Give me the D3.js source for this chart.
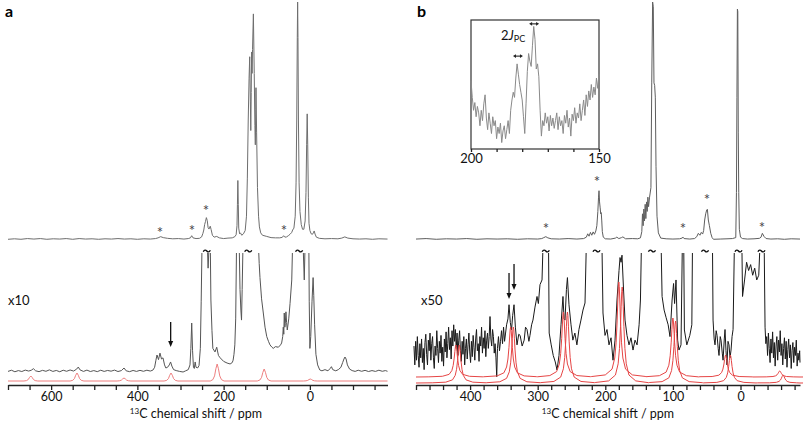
<!DOCTYPE html>
<html><head><meta charset="utf-8">
<script src="https://cdn.jsdelivr.net/npm/d3@7"></script>
<style>body{margin:0;background:#fff} svg{display:block} text{font-family:Lato,"Open Sans",sans-serif}</style>
</head><body><svg id="c" width="803" height="423"></svg>
<script>
// ---------------- DATA ----------------
// Panel a, upper spectrum: [ppm, relative intensity]
const aUpper = [[700,0.3],[685,0.5],[670,0.3],[655,0.6],[640,0.4],[625,0.6],[610,0.3],[595,0.5],[580,0.4],[565,0.6],[550,0.3],[535,0.6],[520,0.4],[505,0.5],[490,0.3],[475,0.5],[460,0.4],[445,0.6],[430,0.4],[415,0.5],[400,0.3],[385,0.5],[370,0.4],[358,0.6],[352,0.9],[346,1.4],[340,1.0],[330,0.7],[318,0.5],[305,0.6],[292,0.4],[282,0.6],[277,0.9],[274,1.8],[271,0.9],[264,0.6],[256,0.7],[251,1.3],[248,2.8],[246,4.2],[244,6.5],[242,7.8],[240,9.4],[238,8.2],[236,5.2],[234,4.6],[231,5.8],[229,4.4],[226,2.0],[222,1.2],[216,1.5],[210,0.9],[200,0.6],[190,0.8],[180,0.9],[174,1.4],[171,2.2],[169,6],[168,15],[167,25],[166,15],[165,5],[163,2.6],[161,3.0],[158,2.0],[154,2.6],[150,4],[147,10],[145,26],[143,50],[141,68],[139.5,77],[138,58],[137,46],[136,62],[135,79],[134,70],[133,80],[131,95],[129,70],[127.5,48],[126.5,40],[125.5,55],[125,64],[123.5,45],[121.5,22],[119,10],[117,5.5],[114,3],[110,2],[100,1.5],[90,1],[80,0.9],[70,0.9],[64,1.1],[61,1.8],[58,1.2],[54,1.3],[50,1.8],[46,2.4],[42,3.2],[40,4.2],[37,5],[34,10],[32,24],[30.5,50],[29.2,85],[28.4,100],[27.6,85],[26.5,50],[25,24],[23,12],[20,6.5],[17,4.5],[14,4.5],[11,8],[9,20],[7.5,40],[6.2,53],[5,40],[3.5,18],[2,7],[0,4],[-3,2.6],[-6,2.4],[-8,3],[-10,3.8],[-12,2.5],[-15,1.2],[-22,0.7],[-35,0.5],[-50,0.6],[-65,0.5],[-74,0.8],[-81,1.3],[-88,0.8],[-100,0.5],[-115,0.4],[-130,0.5],[-145,0.3],[-160,0.5],[-180,0.4]];

// Panel a, lower spectrum (x10), clipped above 100
const aLower = [[700,0.5],[692,1.5],[684,0.2],[676,1.2],[668,0.4],[660,1.6],[652,0.8],[646,1.5],[641,2.8],[636,1.0],[628,0.3],[620,1.4],[612,0.6],[604,1.8],[596,0.5],[588,1.3],[580,0.2],[572,1.5],[564,0.6],[556,1.7],[548,0.8],[541,2.4],[537,4.2],[533,1.8],[525,0.5],[517,1.6],[509,0.4],[501,1.2],[493,0.3],[485,1.5],[477,0.5],[469,1.3],[461,0.7],[453,1.6],[445,0.4],[437,1.2],[431,3.4],[426,1.0],[418,0.3],[410,1.3],[402,0.5],[394,1.4],[386,0.6],[378,1.5],[370,0.8],[364,1.6],[360,4],[357,10],[354.5,14.4],[351,10.5],[347.6,16],[344,11],[340.6,12],[337,6],[334,3.4],[330,4],[326,6],[323,8.5],[320,5],[316,2],[310,1.2],[302,0.5],[294,0],[288,1],[282,2],[278,6],[276,20],[274,41.5],[272,18],[270,4],[268,3],[266,8.5],[264,4],[260,3.5],[257,5.5],[254,20],[252,60],[250,110],[244,160],[240,150],[238,110],[236,88],[234,105],[231,110],[229.5,61],[227,35],[225,20],[220,17],[216,21],[212,14],[208,12],[200,9],[192,7.6],[185,6.8],[180,8],[178,10],[176,15],[174,23],[172,45],[170,110],[167,250],[164,110],[162,70],[160,52.5],[158.5,44],[157,70],[155,110],[150,300],[130,900],[121,200],[119.6,110],[117.5,92],[115.7,80],[112,62],[108,50],[104,38],[100,30],[96,26],[92.5,23],[88,21],[85,20],[80,21.5],[73,21],[68,23],[65.5,24.6],[63,30],[61.7,38],[60.5,32],[59.4,50],[58,38],[57,41],[55.5,51],[54,42],[52.4,35.6],[49,45],[46,58],[42,78],[40,110],[28,900],[17,120],[15,100],[13,78],[11,110],[6,500],[3,140],[1.5,60],[0,20],[-2,30],[-5,60],[-7.5,80],[-9,65],[-11,40],[-14,15],[-18,6],[-23,1.7],[-28,1],[-35,2],[-42,1],[-47,3],[-50,4.5],[-53,2],[-60,1],[-66,2],[-72,4],[-76,8],[-79,11],[-81.4,12.7],[-84,11],[-87,6],[-92,2.5],[-98,1.2],[-105,0.5],[-112,1.5],[-120,0.6],[-128,1.4],[-136,0.4],[-144,1.2],[-152,0.5],[-160,1.5],[-168,0.6],[-175,1.2],[-180,0.6]];

// Panel a, simulated sideband pattern (red): [ppm, height]
const redAPeaks = [[647,25],[540,40],[431,15],[322,40],[215,85],[106,60],[-1,10]];
const redAShapeOffsets = [-16,-10,-6,-3,0,3,6,10,16];
const redAShapeFrac = [0,0.08,0.3,0.72,1,0.72,0.3,0.08,0];

// Panel b, upper spectrum
const bUpper = [[480,0.4],[465,0.6],[450,0.3],[435,0.5],[420,0.4],[405,0.6],[390,0.3],[375,0.5],[360,0.4],[345,0.5],[330,0.3],[315,0.5],[300,0.4],[294,0.6],[291,1.0],[288,1.4],[285,0.9],[280,0.5],[268,0.4],[255,0.6],[242,0.4],[232,0.6],[228,1.2],[226,2.6],[224,1.6],[222,3.2],[220,2.0],[218,3.4],[216,2.4],[214,3.8],[212.5,6],[211,12],[210,18],[209.3,20.7],[208.5,16],[207.6,13.5],[206.8,11],[206,11.5],[205.2,8],[204.4,3.5],[203,1.2],[200,0.5],[192,0.4],[185,0.8],[183,1.2],[180,0.6],[176,1.0],[174,1.3],[170,0.5],[160,0.6],[152,0.5],[148,0.9],[146,3.5],[145,11],[144,6],[143,13],[142,8],[141,15],[140,9],[139,16],[138,12],[137,18],[136,14],[134.5,18],[132.5,22],[131.3,66],[130,100],[129,98],[128,66],[127,65],[126,60],[125,31],[123.5,10],[121.5,3],[118,0.8],[110,0.5],[100,0.4],[90,0.5],[86.5,0.8],[85,1.2],[83.5,0.6],[75,0.4],[68,0.6],[64.7,1.4],[62.4,2.8],[60,2],[58,3.2],[56,2.5],[54.5,4],[53,8.4],[51.5,11],[50,12.6],[49,12.9],[47.6,8.4],[46,6],[44,2.8],[42,1],[40,0.3],[30,0.4],[20,0.5],[12,0.6],[7,1],[6,20],[5.3,60],[4.6,97],[4,96],[3.3,45],[2.6,20],[1.7,4.5],[0,1.2],[-3,0.6],[-10,0.4],[-20,0.5],[-28,0.7],[-30.4,1.2],[-32.3,2.8],[-34.8,1.5],[-37.8,0.6],[-45,0.4],[-55,0.5],[-65,0.3],[-75,0.5],[-88,0.4]];

// Panel b, lower spectrum (x50), clipped above 100
const bLower = [[483,22],[481.75,6],[480.5,26],[479.25,10],[478,30],[476.75,14],[475.5,4],[474.25,24],[473,12],[471.75,28],[470.5,8],[469.25,20],[468,2],[466.75,25],[465.5,32],[464.25,15],[463,6],[461.75,27],[460.5,18],[459.25,33],[458,10],[456.75,24],[455.5,30],[454.25,12],[453,3],[451.75,22],[450.5,14],[449.25,35],[448,20],[446.75,8],[445.5,26],[444.25,16],[443,31],[441.75,9],[440.5,21],[439.25,5],[438,28],[436.75,17],[435.5,34],[434.25,12],[433,24],[431.75,38],[430.5,19],[429.25,29],[428,11],[426.75,35],[425.5,22],[424.25,40],[423,26],[421.75,36],[420.5,20],[419.25,33],[418,14],[416.75,27],[415.5,35],[414.25,18],[413,9],[411.75,26],[410.5,15],[409.25,30],[408,6],[406.75,20],[405.5,28],[404.25,11],[403,23],[401.75,33],[400.5,17],[399.25,8],[398,26],[396.75,13],[395.5,31],[394.25,21],[393,10],[391.75,28],[390.5,36],[389.25,18],[388,24],[386.75,9],[385.5,30],[384.25,22],[383,38],[381.75,16],[380.5,29],[379.25,20],[378,35],[376.75,13],[375.5,27],[374.25,33],[373,20],[371.75,30],[370.5,47],[369.25,28],[368,22],[366.75,36],[365.5,30],[364.25,16],[363,24],[361.75,12],[360.6,-4],[359.5,20],[358,30],[356.5,18],[355,26],[353.5,35],[352,24],[350.5,38],[349,26],[347.5,33],[346,40],[344,45],[342.4,57],[340.5,42],[338.7,35.6],[337,48],[335,57],[333,38],[330.6,23],[328,32],[326,31],[323,22],[320,27],[318,38],[315.8,36],[313,26],[311.4,31],[309,40],[307,44],[304,55],[301,64],[299,58],[296.6,74],[293.6,78],[292,110],[288,300],[284,110],[283,33],[280,23],[277,14],[274,8.5],[271.4,1.7],[268.5,14],[265.5,40],[262.6,64],[261,45],[259.6,44],[257.5,70],[256,80],[253.7,57],[250.7,40],[248,27],[245,33],[242,23],[239,36],[236,44],[233,52.5],[230,58.5],[228,110],[210,1000],[205,110],[203.4,50],[200.4,31],[197.5,36],[194.5,23],[191.5,29],[188.6,10],[185.6,27],[182.7,61],[179.7,86],[178.2,97],[176.7,93],[175.3,99],[173,69.5],[170.8,44],[167.9,31],[164.9,23],[162,29],[159,18.6],[156,27],[153,23],[150,40],[148,61],[146.5,110],[130,5000],[117.5,110],[116,64],[113,52.5],[110,46],[107,40],[104.3,30],[101.2,61],[99,75],[97.5,58],[95.4,78],[93,27],[91,18.6],[88,23],[86,110],[85,150],[84,110],[83,35.6],[79.4,23],[75,31],[72,40],[71,110],[55,600],[41.5,110],[40.6,44],[39,28],[37.7,23],[36,35],[34.7,31],[33,20],[31.8,14],[30,30],[28.8,27],[27,16],[25.8,10],[24,28],[22.9,36],[21.5,18],[20,6],[18.5,26],[17,23],[15.5,12],[14,18.6],[12.5,30],[11,36],[9,110],[4,5000],[-2,110],[-3,64],[-6,78],[-9,93],[-12,86],[-15,91],[-18,82],[-21,88],[-24,78],[-27,82],[-29,110],[-32,150],[-35,110],[-36.3,38],[-37.5,24],[-38.75,30],[-40,14],[-41.25,33],[-42.5,20],[-43.75,8],[-45,28],[-46.25,16],[-47.5,34],[-48.75,12],[-50,25],[-51.25,5],[-52.5,22],[-53.75,30],[-55,10],[-56.25,27],[-57.5,17],[-58.75,35],[-60,14],[-61.25,24],[-62.5,6],[-63.75,20],[-65,29],[-66.25,11],[-67.5,26],[-68.75,4],[-70,19],[-71.25,28],[-72.5,12],[-73.75,23],[-75,3],[-76.25,18],[-77.5,25],[-78.75,8],[-80,21],[-81.25,14],[-82.5,27],[-83.75,5],[-85,16],[-86.25,10],[-87.5,18],[-88,8]];

// Panel b, two simulated patterns (red): [ppm, height]
const redB1Peaks = [[421,32],[340,50],[262,65],[180,95],[100,59],[22,22],[-58,6]];
const redB2Peaks = [[416,38],[336,56],[256,71],[175,96],[96,62],[15,28],[-63,8]];
const redBShapeOffsets = [-40,-20,-10,-6,-4,-2.5,-1.5,-0.7,0,0.7,1.5,2.5,4,6,10,20,40];
const redBShapeFrac = [0.005,0.022,0.083,0.2,0.36,0.59,0.8,0.95,1,0.95,0.8,0.59,0.36,0.2,0.083,0.022,0.005];

// Inset (panel b): intensities from 200 ppm to 150 ppm in 0.5 ppm steps
const insetStartPpm = 200, insetStepPpm = -0.5;
const insetValues = [53,40,30,36,25,33,28,18,30,22,35,42,24,15,28,20,12,25,18,22,8,17,12,20,5,14,18,8,15,22,12,30,38,44,40,55,66,58,50,44,38,25,12,35,60,74,68,64,80,95,85,62,66,56,30,10,22,18,28,20,25,14,26,18,24,16,22,28,15,25,18,22,12,26,20,30,17,24,10,27,22,32,20,28,24,35,22,30,38,26,42,33,45,38,50,40,48,42,55,47,58];

// Axis ticks
const aTickValues = [700,650,600,550,500,450,400,350,300,250,200,150,100,50,0,-50,-100,-150];
const aTickLabels = [600,400,200,0];
const bTickValues = [480,460,440,420,400,380,360,340,320,300,280,260,240,220,200,180,160,140,120,100,80,60,40,20,0,-20,-40,-60,-80];
const bTickLabels = [400,300,200,100,0];
const insetTickValues = [200,190,180,170,160,150];
const insetTickLabels = [200,150];

// Annotations
const aAsterisks = [[347.6,4.2],[273.4,5.0],[240.9,13.4],[60,5.0]];   // [ppm, upper-intensity]
const bAsterisks = [[287.7,5.9],[212.3,25.6],[85,5.9],[49.5,18.1],[-31.8,6.3]];
const aTildes = [239,143,25];
const bTildes = [288,213,131,52.5,3,-31];
const aArrows = [[322.8,42.4,21.2]];                 // [ppm, from, to] (lower-intensity)
const bArrows = [[342.4,83.9,61.9],[335,91.5,69.5]];
const insetArrows = [[183.6,179.7,72],[177.3,173.4,97]]; // [ppm1, ppm2, inset-intensity]

// ---------------- DRAW ----------------
const svg = d3.select("#c");
const FONT = 'Lato, "Open Sans", sans-serif';

const xa = d3.scaleLinear([700,-180],[8,387.5]);
const xb = d3.scaleLinear([480,-88],[416,800]);
const xi = d3.scaleLinear([200,150],[471,599]);
const yU = d3.scaleLinear([0,100],[240,2]);
const yL = d3.scaleLinear([0,100],[372,254]);
const yRa = d3.scaleLinear([0,100],[381,361]);
const yRb1 = d3.scaleLinear([0,100],[377,277]);
const yRb2 = d3.scaleLinear([0,100],[383,283]);
const yi = d3.scaleLinear([0,100],[149,20]);

svg.append("defs").append("clipPath").attr("id","lowclip")
  .append("rect").attr("x",0).attr("y",253).attr("width",803).attr("height",140);

function trace(data, x, y, color, w, clip) {
  const p = svg.append("path").datum(data)
    .attr("d", d3.line().x(d=>x(d[0])).y(d=>y(d[1])))
    .attr("fill","none").attr("stroke",color).attr("stroke-width",w)
    .attr("stroke-linejoin","round");
  if (clip) p.attr("clip-path","url(#lowclip)");
}
function buildSim(peaks, offsets, fracs, lo, hi) {
  const pts = [[lo,0],[hi,0]];
  peaks.forEach(([p,h]) => offsets.forEach((o,i) => pts.push([p+o, h*fracs[i]])));
  pts.sort((a,b)=>b[0]-a[0]);
  return pts;
}

// Panel a
trace(aUpper, xa, yU, "#6e6e6e", 1, false);
trace(aLower, xa, yL, "#555", 1, true);
trace(buildSim(redAPeaks, redAShapeOffsets, redAShapeFrac, 700, -180), xa, yRa, "#ee7f7f", 1, false);

// Panel b
trace(bUpper, xb, yU, "#5e5e5e", 1, false);
trace(bLower, xb, yL, "#1a1a1a", 1, true);
trace(buildSim(redB1Peaks, redBShapeOffsets, redBShapeFrac, 480, -88), xb, yRb1, "#e64545", 1, false);
trace(buildSim(redB2Peaks, redBShapeOffsets, redBShapeFrac, 480, -88), xb, yRb2, "#e64545", 1, false);

// Asterisks
function asterisks(list, x) {
  svg.selectAll(null).data(list).join("text")
    .attr("x", d=>x(d[0])).attr("y", d=>yU(d[1])+8)
    .attr("text-anchor","middle").attr("font-size",15).attr("fill","#444")
    .attr("font-family",FONT).text("*");
}
asterisks(aAsterisks, xa); asterisks(bAsterisks, xb);

// Tildes
function tildes(list, x) {
  svg.selectAll(null).data(list).join("path")
    .attr("d", d=>{const cx=x(d), cy=251; return `M${cx-3.5},${cy+0.8} C${cx-2.5},${cy-1.5} ${cx-1},${cy-1.2} ${cx},${cy} S${cx+2.5},${cy+1.5} ${cx+3.5},${cy-0.8}`;})
    .attr("fill","none").attr("stroke","#111").attr("stroke-width",1.4);
}
tildes(aTildes, xa); tildes(bTildes, xb);

// Vertical arrows
function arrows(list, x) {
  list.forEach(([p,f,t]) => {
    const cx = x(p), y1 = yL(f), y2 = yL(t);
    svg.append("line").attr("x1",cx).attr("x2",cx).attr("y1",y1).attr("y2",y2-5)
      .attr("stroke","#111").attr("stroke-width",1.3);
    svg.append("path").attr("d",`M${cx-2.5},${y2-6} L${cx+2.5},${y2-6} L${cx},${y2} Z`).attr("fill","#111");
  });
}
arrows(aArrows, xa); arrows(bArrows, xb);

// Axes
function axis(scale, ticks, labels, y, size, pad, fs) {
  const ax = d3.axisBottom(scale).tickValues(ticks).tickSize(size).tickSizeOuter(0).tickPadding(pad)
    .tickFormat(d => labels.includes(d) ? d : "");
  const g = svg.append("g").attr("transform",`translate(0,${y})`).call(ax);
  g.select(".domain").attr("stroke","#222").attr("stroke-width",1.5);
  g.selectAll(".tick line").attr("stroke","#222").attr("stroke-width",1.3);
  g.selectAll(".tick text").attr("font-size",fs).attr("fill","#111").attr("font-family",FONT);
  g.selectAll(".tick text").filter(function(){return this.textContent==="";}).remove();
  return g;
}
axis(xa, aTickValues, aTickLabels, 385, 5, 2, 12.5);
axis(xb, bTickValues, bTickLabels, 385, 5, 2, 12.5);

function axTitle(cx) {
  const t = svg.append("text").attr("x",cx).attr("y",418).attr("text-anchor","middle")
    .attr("font-size",12.5).attr("fill","#111").attr("font-family",FONT);
  t.append("tspan").attr("font-size",8).attr("dy",-4).text("13");
  t.append("tspan").attr("dy",4).text("C chemical shift / ppm");
}
axTitle(196); axTitle(608);

// Panel labels and scale factors
svg.append("text").attr("x",5).attr("y",17).attr("font-size",16).attr("font-weight","bold")
  .attr("font-family","Liberation Sans, Arial, sans-serif").text("a");
svg.append("text").attr("x",417).attr("y",17).attr("font-size",16).attr("font-weight","bold")
  .attr("font-family","Liberation Sans, Arial, sans-serif").text("b");
svg.append("text").attr("x",8).attr("y",305).attr("font-size",13).attr("font-family",FONT).attr("fill","#111").text("x10");
svg.append("text").attr("x",421).attr("y",305).attr("font-size",13).attr("font-family",FONT).attr("fill","#111").text("x50");

// Inset
const insetData = insetValues.map((v,i)=>[insetStartPpm + i*insetStepPpm, v]);
svg.append("rect").attr("x",471).attr("y",20).attr("width",128).attr("height",129)
  .attr("fill","#fff").attr("stroke","#333").attr("stroke-width",1.2);
trace(insetData, xi, yi, "#8a8a8a", 1, false);
axis(xi, insetTickValues, insetTickLabels, 149, 3, 2, 13).select(".domain").attr("stroke","none");
insetArrows.forEach(([p1,p2,v]) => {
  const x1 = xi(p1), x2 = xi(p2), yy = yi(v);
  svg.append("line").attr("x1",x1+2).attr("x2",x2-2).attr("y1",yy).attr("y2",yy).attr("stroke","#222").attr("stroke-width",1.1);
  svg.append("path").attr("d",`M${x1},${yy} L${x1+3},${yy-1.8} L${x1+3},${yy+1.8} Z M${x2},${yy} L${x2-3},${yy-1.8} L${x2-3},${yy+1.8} Z`).attr("fill","#222");
});
const jl = svg.append("text").attr("x",501).attr("y",40).attr("font-size",13).attr("fill","#111").attr("font-family",FONT);
jl.append("tspan").text("2");
jl.append("tspan").attr("font-style","italic").text("J");
jl.append("tspan").attr("font-size",9).attr("dy",2).text("PC");
</script></body></html>
